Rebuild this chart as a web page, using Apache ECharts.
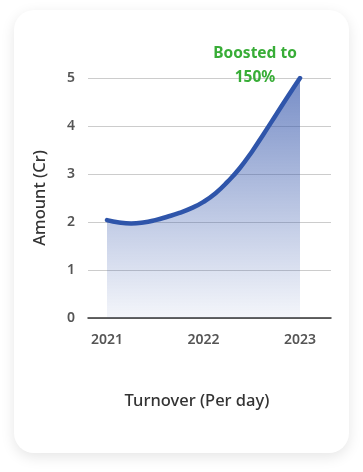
<!DOCTYPE html>
<html>
<head>
<meta charset="utf-8">
<script src="https://cdn.jsdelivr.net/npm/echarts@6/dist/echarts.min.js"></script>
<style>
  html, body { margin: 0; padding: 0; background: #ffffff; width: 363px; height: 472px; overflow: hidden; }
  #card {
    position: absolute; left: 14px; top: 10px; width: 335px; height: 443px;
    background: #ffffff; border-radius: 20px;
    box-shadow: 0 4px 14px rgba(0,0,0,0.10);
  }
  #chart { position: absolute; left: 0; top: 0; width: 335px; height: 443px; }
</style>
</head>
<body>
<div id="card"><div id="chart"></div></div>
<script>
// Data (one reading every eighth of a year)
const years = [2021, 2021.125, 2021.25, 2021.375, 2021.5, 2021.625, 2021.75, 2021.875,
               2022, 2022.125, 2022.25, 2022.375, 2022.5, 2022.625, 2022.75, 2022.875, 2023];
const amounts = [2.04, 1.99, 1.97, 1.99, 2.04, 2.11, 2.19, 2.29,
                 2.42, 2.6, 2.84, 3.12, 3.46, 3.84, 4.23, 4.62, 5.0];
const yearTicks = [2021, 2022, 2023];
const yTicks = [0, 1, 2, 3, 4, 5];
const annotation = ['Boosted to', '150%'];
const xAxisName = 'Turnover (Per day)';
const yAxisName = 'Amount (Cr)';

const FONT = '"Noto Sans", "DejaVu Sans", sans-serif';
const chart = echarts.init(document.getElementById('chart'), null, { renderer: 'canvas' });

const seriesData = years.map((y, i) => {
  const item = { value: [y, amounts[i]] };
  if (i === years.length - 1) {
    item.label = {
      show: true,
      position: 'top',
      distance: 5,
      offset: [-45, 17],
      formatter: annotation.join('\n'),
      color: '#38ad37',
      fontSize: 15.5,
      fontWeight: 'bold',
      fontFamily: FONT,
      lineHeight: 24,
      align: 'center'
    };
  }
  return item;
});

chart.setOption({
  animation: false,
  grid: { left: 74, top: 68, width: 243, height: 240, containLabel: false },
  xAxis: {
    type: 'value',
    min: 2020.803,
    max: 2023.321,
    name: xAxisName,
    nameLocation: 'middle',
    nameGap: 75,
    nameTextStyle: { color: '#333333', fontSize: 16.5, fontFamily: FONT, fontWeight: 500, padding: [0, 25, 0, 0] },
    axisLine: { show: true, lineStyle: { color: '#333333', width: 1.5 } },
    axisTick: { show: false },
    splitLine: { show: false },
    axisLabel: {
      customValues: yearTicks,
      formatter: v => String(Math.round(v)),
      color: '#555555', fontSize: 14, fontFamily: FONT, fontWeight: 600, margin: 15
    }
  },
  yAxis: {
    type: 'value',
    min: 0, max: 5, interval: 1,
    name: yAxisName,
    nameLocation: 'middle',
    nameGap: 39,
    nameRotate: 90,
    nameTextStyle: { color: '#333333', fontSize: 16.5, fontFamily: FONT, fontWeight: 500 },
    axisLine: { show: false },
    axisTick: { show: false },
    splitLine: { show: true, lineStyle: { color: '#cccccc', width: 1 } },
    axisLabel: {
      formatter: v => yTicks.includes(v) ? String(v) : '',
      color: '#555555', fontSize: 14, fontFamily: FONT, fontWeight: 600, margin: 13
    }
  },
  series: [{
    type: 'line',
    data: seriesData,
    smooth: true,
    showSymbol: true,
    symbol: 'circle',
    symbolSize: 1,
    itemStyle: { color: '#2f55aa' },
    lineStyle: { color: '#2f55aa', width: 4.5, cap: 'round' },
    areaStyle: {
      origin: 'start',
      color: {
        type: 'linear', x: 0, y: 0, x2: 0, y2: 1,
        colorStops: [
          { offset: 0, color: 'rgba(50,84,170,0.95)' },
          { offset: 1, color: 'rgba(50,84,170,0.08)' }
        ]
      }
    },
    z: 3
  }]
});
</script>
</body>
</html>
